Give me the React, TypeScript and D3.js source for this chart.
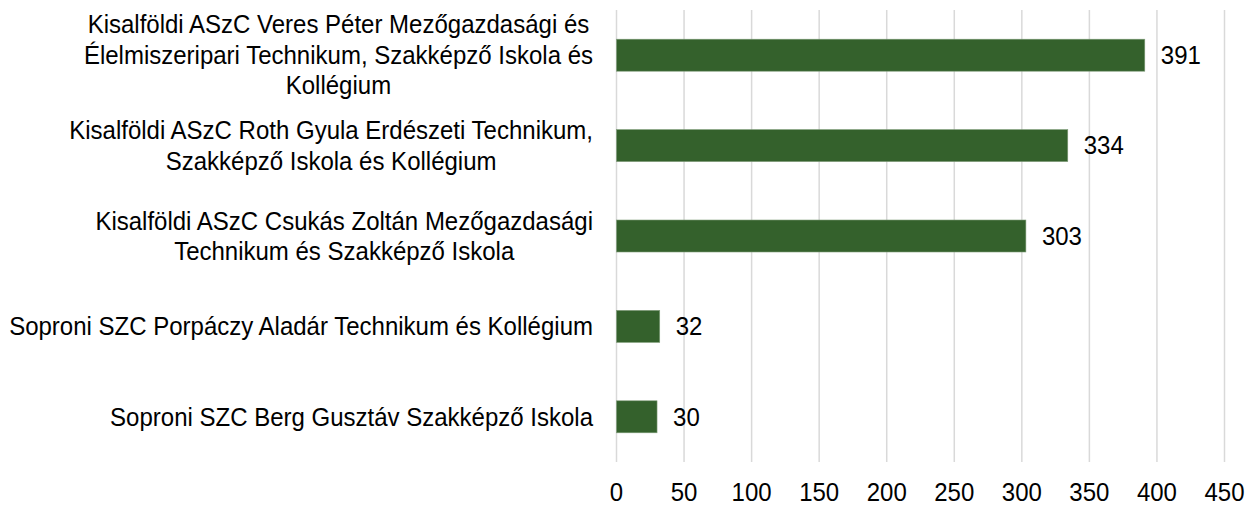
import React, { useEffect, useRef } from "react";
import * as d3 from "d3";

const categoryLines: string[][] = [
  ["Kisalföldi ASzC Veres Péter Mezőgazdasági és", "Élelmiszeripari Technikum, Szakképző Iskola és", "Kollégium"],
  ["Kisalföldi ASzC Roth Gyula Erdészeti Technikum,", "Szakképző Iskola és Kollégium"],
  ["Kisalföldi ASzC Csukás Zoltán Mezőgazdasági", "Technikum és Szakképző Iskola"],
  ["Soproni SZC Porpáczy Aladár Technikum és Kollégium"],
  ["Soproni SZC Berg Gusztáv Szakképző Iskola"],
];
const values = [391, 334, 303, 32, 30];
const xTicks = [0, 50, 100, 150, 200, 250, 300, 350, 400, 450];

const W = 1254;
const H = 507;
const FONT = "'Liberation Sans', Arial, sans-serif";
const FS = 25;
const SX = 0.96;
const LINE_H = 30.5;

export default function App() {
  const ref = useRef<SVGSVGElement>(null);

  useEffect(() => {
    document.body.style.margin = "0";
    const svg = d3.select(ref.current);
    svg.selectAll("*").remove();

    const ids = categoryLines.map((_, i) => String(i));
    const x = d3.scaleLinear().domain([0, 450]).range([616.5, 1224.5]);
    const y = d3.scaleBand().domain(ids).range([10, 462]).paddingInner(0.646).paddingOuter(0.323);

    const squeeze = (sel: d3.Selection<SVGTextElement, any, any, any>) => {
      sel.each(function () {
        const len = this.getComputedTextLength();
        d3.select(this).attr("textLength", len * SX).attr("lengthAdjust", "spacingAndGlyphs");
      });
    };

    // gridlines
    svg.append("g")
      .selectAll("line")
      .data(xTicks)
      .join("line")
      .attr("x1", (d) => x(d))
      .attr("x2", (d) => x(d))
      .attr("y1", 10)
      .attr("y2", 462)
      .attr("stroke", "#d9d9d9")
      .attr("stroke-width", 1.5);

    // bars
    svg.append("g")
      .selectAll("rect")
      .data(values)
      .join("rect")
      .attr("x", x(0))
      .attr("y", (_, i) => y(String(i))!)
      .attr("width", (d) => x(d) - x(0))
      .attr("height", y.bandwidth())
      .attr("fill", "#34612c")
      .attr("stroke", "#7f9c78")
      .attr("stroke-width", 0.6);

    // value labels
    const vl = svg.append("g")
      .selectAll("text")
      .data(values)
      .join("text")
      .attr("x", (d) => x(d) + 16)
      .attr("y", (_, i) => y(String(i))! + y.bandwidth() / 2)
      .attr("dy", "0.35em")
      .attr("font-family", FONT)
      .attr("font-size", FS)
      .attr("fill", "#000")
      .text((d) => String(d));
    squeeze(vl as any);

    // x tick labels
    const tl = svg.append("g")
      .selectAll("text")
      .data(xTicks)
      .join("text")
      .attr("x", (d) => x(d))
      .attr("y", 492)
      .attr("dy", "0.35em")
      .attr("text-anchor", "middle")
      .attr("font-family", FONT)
      .attr("font-size", FS)
      .attr("fill", "#000")
      .text((d) => String(d));
    squeeze(tl as any);

    // category labels
    const RIGHT = 593;
    categoryLines.forEach((lines, i) => {
      const g = svg.append("g");
      const cy = y(String(i))! + y.bandwidth() / 2;
      const texts = g.selectAll("text")
        .data(lines)
        .join("text")
        .attr("y", (_, j) => cy + (j - (lines.length - 1) / 2) * LINE_H)
        .attr("dy", "0.35em")
        .attr("text-anchor", "middle")
        .attr("font-family", FONT)
        .attr("font-size", FS)
        .attr("fill", "#000")
        .text((d) => d);
      let maxW = 0;
      texts.each(function () {
        const len = this.getComputedTextLength() * SX;
        d3.select(this).attr("textLength", len).attr("lengthAdjust", "spacingAndGlyphs");
        maxW = Math.max(maxW, len);
      });
      texts.attr("x", RIGHT - maxW / 2);
    });
  }, []);

  return <svg ref={ref} width={W} height={H} style={{ display: "block", background: "#fff" }} />;
}
